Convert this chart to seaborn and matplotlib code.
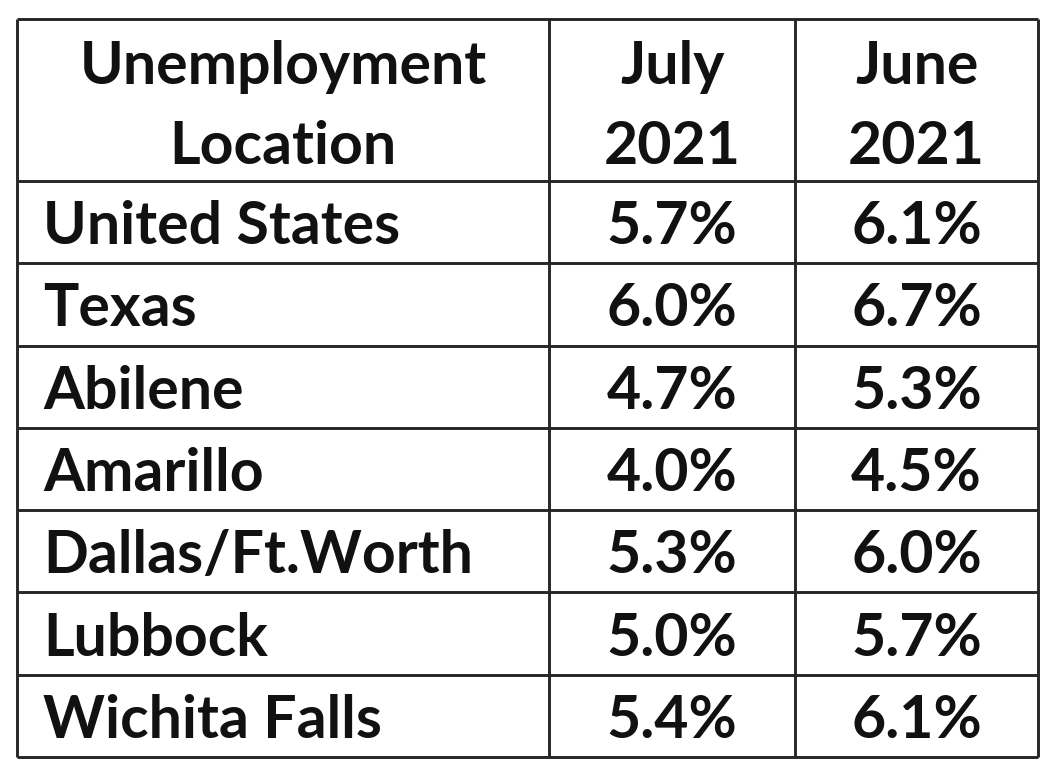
import matplotlib
matplotlib.use("Agg")
import matplotlib.pyplot as plt
import seaborn as sns

# Table contents
header_location = "Unemployment\nLocation"
header_months = ["July\n2021", "June\n2021"]
locations = ["United States", "Texas", "Abilene", "Amarillo",
             "Dallas/Ft.Worth", "Lubbock", "Wichita Falls"]
july_2021 = [5.7, 6.0, 4.7, 4.0, 5.3, 5.0, 5.4]
june_2021 = [6.1, 6.7, 5.3, 4.5, 6.0, 5.7, 6.1]

sns.set_theme(style="white")
plt.rcParams['font.family'] = ['Lato', 'DejaVu Sans']

W, H = 1055, 770
fig = plt.figure(figsize=(W / 100, H / 100), dpi=100)
ax = fig.add_axes([0, 0, 1, 1])
ax.set_xlim(0, W)
ax.set_ylim(H, 0)
ax.axis("off")

# layout in pixels
col_edges = [17, 549, 795, 1038]
top, header_bottom, bottom = 19, 181, 757
row_h = (bottom - header_bottom) / len(locations)
row_edges = [top, header_bottom] + [header_bottom + row_h * (i + 1)
                                    for i in range(len(locations))]

line_kw = dict(color="#262626", linewidth=2.1)
ax.hlines(row_edges, col_edges[0], col_edges[-1], **line_kw)
ax.vlines(col_edges, top, bottom, **line_kw)

fs = 42.5
cap = 22  # roughly half the cap height, in px
txt_kw = dict(fontsize=fs, fontweight="bold", color="#111111")

# header
hc = (top + header_bottom) / 2
col_centers = [(col_edges[i] + col_edges[i + 1]) / 2 for i in range(3)]
for j, label in enumerate([header_location] + header_months):
    for k, line in enumerate(label.split("\n")):
        ax.text(col_centers[j], hc - 38 + 80 * k + cap, line,
                ha="center", va="baseline", **txt_kw)

# body rows
for i, (loc, jul, jun) in enumerate(zip(locations, july_2021, june_2021)):
    yc = header_bottom + row_h * (i + 0.5) + cap
    ax.text(col_edges[0] + 26, yc, loc, ha="left", va="baseline", **txt_kw)
    ax.text(col_centers[1], yc, f"{jul:.1f}%", ha="center", va="baseline", **txt_kw)
    ax.text(col_centers[2], yc, f"{jun:.1f}%", ha="center", va="baseline", **txt_kw)

fig.savefig("out.png", dpi=100, facecolor="white")
